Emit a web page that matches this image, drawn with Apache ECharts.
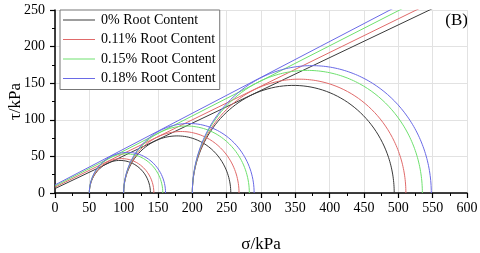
<!DOCTYPE html>
<html>
<head>
<meta charset="utf-8">
<script src="https://cdn.jsdelivr.net/npm/echarts@6/dist/echarts.min.js"></script>
<style>
html,body{margin:0;padding:0;background:#fff;}
#chart{width:480px;height:253px;}
</style>
</head>
<body>
<div id="chart"></div>
<script>
// Data (kPa)
const seriesNames = ['0% Root Content', '0.11% Root Content', '0.15% Root Content', '0.18% Root Content'];
const sigma3 = [50, 100, 200];               // confining pressures
const sigma1_0 = [139, 256, 494];            // major principal stress, 0%
const sigma1_011 = [144, 268, 511];          // 0.11%
const sigma1_015 = [157, 283, 535];          // 0.15%
const sigma1_018 = [161, 290, 548];          // 0.18%
const cohesion = [6, 8, 9.5, 11];            // envelope intercepts c (kPa)
const frictionAngle = [24.1, 24.7, 25.6, 26.1]; // envelope angle phi (deg)
const xTicks = [0, 50, 100, 150, 200, 250, 300, 350, 400, 450, 500, 550, 600];
const yTicks = [0, 50, 100, 150, 200, 250];

const colors = ['#3a3a3a', '#e06a6a', '#6ee06e', '#6a6ae6'];
const sigma1All = [sigma1_0, sigma1_011, sigma1_015, sigma1_018];
const FONT = '"Liberation Serif","Times New Roman",serif';

function mohrCircle(s3, s1) {
  const c = (s1 + s3) / 2, r = (s1 - s3) / 2, pts = [];
  const n = 160;
  for (let i = 0; i <= n; i++) {
    const t = Math.PI * i / n;
    pts.push([c + r * Math.cos(t), r * Math.sin(t)]);
  }
  return pts;
}

const series = [];
seriesNames.forEach((name, k) => {
  sigma3.forEach((s3, j) => {
    series.push({
      name, type: 'line', symbol: 'none', clip: true, silent: true,
      lineStyle: {color: colors[k], width: 1}, itemStyle: {color: colors[k]},
      data: mohrCircle(s3, sigma1All[k][j])
    });
  });
  const tanPhi = Math.tan(frictionAngle[k] * Math.PI / 180);
  series.push({
    name, type: 'line', symbol: 'none', clip: true, silent: true,
    lineStyle: {color: colors[k], width: 1}, itemStyle: {color: colors[k]},
    data: [[0, cohesion[k]], [600, cohesion[k] + 600 * tanPhi]]
  });
});

const chart = echarts.init(document.getElementById('chart'), null, {renderer: 'canvas'});
chart.setOption({
  animation: false,
  backgroundColor: '#fff',
  grid: {left: 55, right: 13, top: 10, bottom: 60, containLabel: false, outerBoundsMode: 'none'},
  xAxis: {
    type: 'value', min: xTicks[0], max: xTicks[xTicks.length - 1], interval: 50,
    name: 'σ/kPa', nameLocation: 'middle', nameGap: 43,
    nameTextStyle: {fontFamily: FONT, fontSize: 17, color: '#000'},
    axisLine: {onZero: false, lineStyle: {color: '#000', width: 1.5}},
    axisTick: {inside: false, length: 5, lineStyle: {color: '#000', width: 1.2}},
    minorTick: {show: true, splitNumber: 2, length: 3, lineStyle: {color: '#000', width: 1}},
    axisLabel: {fontFamily: FONT, fontSize: 14, color: '#000', margin: 8},
    splitLine: {show: true, lineStyle: {color: '#e2e2e2', width: 1}}
  },
  yAxis: {
    type: 'value', min: yTicks[0], max: yTicks[yTicks.length - 1], interval: 50,
    name: 'τ/kPa', nameLocation: 'middle', nameGap: 31, nameRotate: 90, nameMoveOverlap: false,
    nameTextStyle: {fontFamily: FONT, fontSize: 17, color: '#000'},
    axisLine: {show: true, onZero: false, lineStyle: {color: '#000', width: 1.5}},
    axisTick: {show: true, inside: false, length: 5, lineStyle: {color: '#000', width: 1.2}},
    minorTick: {show: true, splitNumber: 2, length: 3, lineStyle: {color: '#000', width: 1}},
    axisLabel: {fontFamily: FONT, fontSize: 14, color: '#000', margin: 10},
    splitLine: {show: true, lineStyle: {color: '#e2e2e2', width: 1}}
  },
  legend: {
    data: seriesNames, orient: 'vertical', left: 60, top: 10,
    backgroundColor: '#fff', borderColor: '#777', borderWidth: 1,
    padding: [2, 4, 3, 3], itemGap: 3.5, itemWidth: 32, itemHeight: 14,
    icon: 'path://M0,0 L32,0 L32,1 L0,1 Z',
    textStyle: {fontFamily: FONT, fontSize: 14, color: '#000', lineHeight: 16, padding: [0, 0, 0, 1]},
    selectedMode: false
  },
  graphic: [{
    type: 'text', right: 12, top: 12,
    style: {text: '(B)', font: '17px ' + FONT, fill: '#000'}
  }],
  series
});
</script>
</body>
</html>
